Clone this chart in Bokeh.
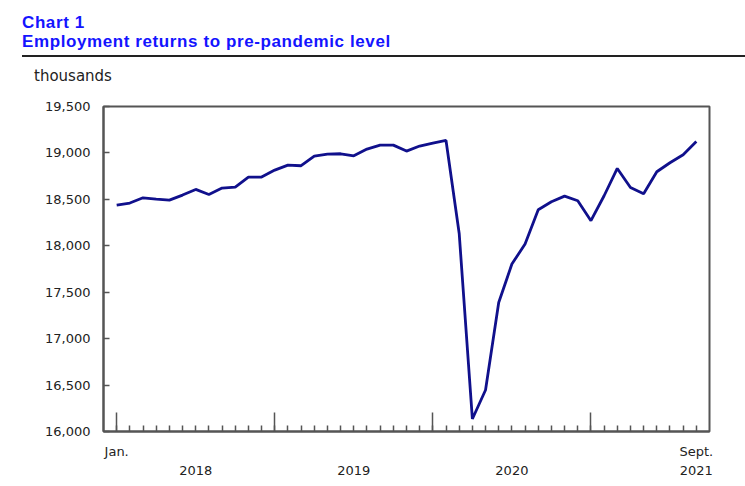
from bokeh.plotting import figure
from bokeh.models import (Range1d, FixedTicker, LinearAxis, NumeralTickFormatter, Div,
                          CustomLabelingPolicy)
from bokeh.layouts import column
from bokeh.embed import file_html
from bokeh.resources import INLINE

# ---- data (thousands, monthly, Jan 2018 - Sept 2021) ----
months = list(range(45))
employment = [18439, 18460, 18517, 18503, 18492, 18546, 18607, 18553, 18622, 18632, 18740, 18740,
              18815, 18869, 18862, 18966, 18988, 18991, 18969, 19041, 19084, 19084, 19020, 19074,
              19106, 19134, 18133, 16135, 16447, 17390, 17803, 18019, 18388, 18474, 18535, 18485,
              18270, 18539, 18833, 18628, 18560, 18797, 18894, 18980, 19123]
year_starts = [0, 12, 24, 36]
month_label_pos = [0, 44]
month_labels = ["Jan.", "Sept."]
year_label_pos = [6, 18, 30, 44]
year_labels = ["2018", "2019", "2020", "2021"]
y_ticks = [16000, 16500, 17000, 17500, 18000, 18500, 19000, 19500]

FRAME = "#555555"
TXT = "#222222"
FONT = "DejaVu Sans"

header = Div(
    text=("<div style=\"margin-left:22px;width:723px;box-sizing:border-box;"
          "border-bottom:2px solid #222;padding:13px 0 4px 0;"
          "font-family:'Liberation Sans',Arial,sans-serif;font-weight:bold;font-size:17px;"
          "letter-spacing:0.6px;line-height:19px;color:#1414ff;white-space:nowrap;\">"
          "<div>Chart 1</div><div>Employment returns to pre-pandemic level</div></div>"
          "<div style=\"margin:10px 0 0 34px;font-family:'DejaVu Sans',Verdana,sans-serif;"
          "font-size:15px;line-height:18px;color:#222;\">thousands</div>"),
    width=745, height=85, margin=0,
)

p = figure(width=745, height=392, output_backend="svg", toolbar_location=None,
           x_range=Range1d(-1, 45), y_range=Range1d(16000, 19500),
           min_border_left=103, min_border_right=36, min_border_top=21, min_border_bottom=0,
           margin=0)
p.grid.visible = False
p.outline_line_color = FRAME
p.outline_line_width = 2
p.background_fill_color = "white"
p.border_fill_color = "white"

p.line(months, employment, line_color="#10108c", line_width=2.8)

# y axis
ya = p.yaxis[0]
ya.ticker = FixedTicker(ticks=y_ticks)
ya.formatter = NumeralTickFormatter(format="0,0")
ya.major_tick_in = 6
ya.major_tick_out = 0
ya.minor_tick_in = 0
ya.minor_tick_out = 0
ya.axis_line_color = FRAME
ya.axis_line_width = 2
ya.major_tick_line_color = FRAME
ya.major_tick_line_width = 1.5
ya.major_label_standoff = 13
ya.major_label_text_font = FONT
ya.major_label_text_font_size = "13px"
ya.major_label_text_color = TXT

# x axis: ticks only (labels hidden by policy)
xa = p.xaxis[0]
xa.ticker = FixedTicker(ticks=year_starts, minor_ticks=months)
xa.major_tick_in = 19
xa.major_tick_out = 0
xa.minor_tick_in = 6
xa.minor_tick_out = 0
xa.axis_line_color = FRAME
xa.axis_line_width = 2
xa.major_tick_line_color = FRAME
xa.major_tick_line_width = 1.5
xa.minor_tick_line_color = FRAME
xa.minor_tick_line_width = 1.5
xa.major_label_standoff = 0
xa.major_label_text_font_size = "0px"
xa.major_label_policy = CustomLabelingPolicy(
    code="for (const i of indices) { indices.unset(i) }\nreturn indices")

def label_axis(pos, labels, standoff):
    ax = LinearAxis(ticker=FixedTicker(ticks=pos),
                    major_label_overrides={pt: lab for pt, lab in zip(pos, labels)})
    ax.axis_line_color = None
    ax.major_tick_line_color = None
    ax.minor_tick_line_color = None
    ax.major_tick_in = 0
    ax.major_tick_out = 0
    ax.minor_tick_in = 0
    ax.minor_tick_out = 0
    ax.major_label_standoff = standoff
    ax.major_label_text_font = FONT
    ax.major_label_text_font_size = "13px"
    ax.major_label_text_color = TXT
    return ax

p.add_layout(label_axis(month_label_pos, month_labels, 12), "below")
p.add_layout(label_axis(year_label_pos, year_labels, 4), "below")

layout = column(header, p, spacing=0)
open("out.html", "w").write(file_html(layout, INLINE))
